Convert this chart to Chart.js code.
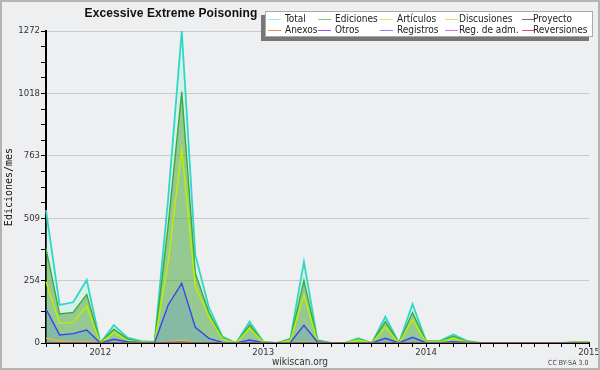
<!DOCTYPE html>
<html>
<head>
<meta charset="utf-8">
<script src="https://cdn.jsdelivr.net/npm/chart.js@4/dist/chart.umd.min.js"></script>
<style>
  html, body { margin: 0; padding: 0; background: #eeeff1; }
  #wrap { position: relative; width: 600px; height: 370px; background: #eeeff1; overflow: hidden; }
  #frame { position: absolute; left: 0; top: 0; width: 600px; height: 370px; box-sizing: border-box; border: 2px solid #b4b4b4; pointer-events: none; }
  canvas { position: absolute; left: 0; top: 0; }
  #title { position: absolute; top: 6px; left: 60px; width: 222px; text-align: center; font: bold 12px "Liberation Sans", sans-serif; color: #111; letter-spacing: 0.1px; }
  #legend { position: absolute; left: 265px; top: 11px; width: 328px; height: 26px; background: #fff; border: 1px solid #aaa; box-sizing: border-box; box-shadow: -4px 4px 0 #777; }
  .li { position: absolute; font: 10px "DejaVu Sans Condensed", "DejaVu Sans", sans-serif; color: #222; white-space: nowrap; line-height: 11px; }
  .ll { position: absolute; height: 1px; width: 13px; }
  #site { position: absolute; left: 0; width: 600px; top: 356px; text-align: center; font: 10px "DejaVu Sans Condensed", "DejaVu Sans", sans-serif; color: #333; }
  #cc { position: absolute; left: 548px; top: 359px; font: 7px "DejaVu Sans Condensed", "DejaVu Sans", sans-serif; color: #444; }
</style>
</head>
<body>
<div id="wrap">
  <canvas id="c" width="600" height="370"></canvas>
  <div id="title">Excessive Extreme Poisoning</div>
  <div id="legend"></div>
  <div id="site">wikiscan.org</div>
  <div id="cc">CC BY-SA 3.0</div>
  <div id="frame"></div>
</div>
<script>
// ---- data (monthly, Sep 2011 .. Jan 2015) ----
const months = ['2011-09','2011-10','2011-11','2011-12',
  '2012-01','2012-02','2012-03','2012-04','2012-05','2012-06','2012-07','2012-08','2012-09','2012-10','2012-11','2012-12',
  '2013-01','2013-02','2013-03','2013-04','2013-05','2013-06','2013-07','2013-08','2013-09','2013-10','2013-11','2013-12',
  '2014-01','2014-02','2014-03','2014-04','2014-05','2014-06','2014-07','2014-08','2014-09','2014-10','2014-11','2014-12',
  '2015-01'];
const total       = [542,155,166,257,0,73,22,8,4,590, 1272,359,145,26,0,87,5,0,18,331, 12,0,0,20,0,107,0,158,8,8, 35,9,0,0,0,0,0,0,0,3,3];
const ediciones   = [385,118,125,198,0,56,16,5,3,480, 1024,284,124,20,0,73,4,0,14,254, 9,0,0,15,0,87,0,124,6,6, 28,6,0,0,0,0,0,0,0,3,3];
const articulos   = [250,80,84,151,0,42,10,4,2,330, 790,230,107,17,0,60,3,0,10,196, 6,0,0,12,0,64,0,94,4,4, 19,4,0,0,0,0,0,0,0,3,3];
const discusiones = [20,8,3,5,0,1,0,0,0,3, 12,2,0,0,0,1,0,0,0,4, 0,0,0,0,0,1,0,1,0,0, 0,0,0,0,0,0,0,0,0,0,0];
const proyecto    = [0,0,0,0,0,0,0,0,0,0, 0,0,0,0,0,0,0,0,0,0, 0,0,0,0,0,0,0,0,0,0, 0,0,0,0,0,0,0,0,0,0,0];
const anexos      = [0,0,0,0,0,0,0,0,0,0, 0,0,0,0,0,0,0,0,0,0, 0,0,0,0,0,0,0,0,0,0, 0,0,0,0,0,0,0,0,0,0,0];
const otros       = [0,0,0,0,0,0,0,0,0,2, 3,1,0,0,0,0,0,0,0,0, 0,0,0,0,0,0,0,0,0,0, 0,0,0,0,0,0,0,0,0,0,0];
const registros   = [138,33,38,53,0,15,5,2,1,155, 243,64,19,2,0,12,1,0,2,72, 4,0,0,1,0,19,0,23,1,1, 5,2,0,0,0,0,0,0,0,0,0];
const regAdm      = [0,0,0,0,0,0,0,0,0,0, 0,0,0,0,0,0,0,0,0,0, 0,0,0,0,0,0,0,0,0,0, 0,0,0,0,0,0,0,0,0,0,0];
const reversiones = [0,0,0,0,0,0,0,0,0,0, 0,0,0,0,0,0,0,0,0,0, 0,0,0,0,0,0,0,0,0,0, 0,0,0,0,0,0,0,0,0,0,0];
const yMax = 1272;
const yearTicks = {'2012-01':'2012','2013-01':'2013','2014-01':'2014','2015-01':'2015'};

const seriesNames  = ['Total','Ediciones','Artículos','Discusiones','Proyecto','Anexos','Otros','Registros','Reg. de adm.','Reversiones'];
const seriesData   = [total, ediciones, articulos, discusiones, proyecto, anexos, otros, registros, regAdm, reversiones];
const lineColors   = ['#2fd8c6','#3aaa3a','#bdf000','#e8b830','#666666','#f07040','#8040d0','#3a44f0','#d040e0','#e03030'];
const legendColors = ['#a6e6e0','#7cc87c','#d2f070','#f6d070','#707070','#f08a5a','#9a5ae6','#7c86f4','#d870e6','#e45050'];
const fills        = ['+1','origin',false,false,false,false,false,'origin',false,false];
const fillColors   = ['rgba(165,242,218,0.30)','rgba(62,161,49,0.50)',null,null,null,null,null,'rgba(82,152,225,0.25)',null,null];
const orders       = [5,4,3,1,0,0,0,2,0,0];

const datasets = seriesNames.map((name, i) => ({
  label: name,
  data: seriesData[i],
  borderColor: lineColors[i],
  backgroundColor: fillColors[i] || 'transparent',
  fill: fills[i],
  borderWidth: i === 0 ? 1.8 : 1.4,
  pointRadius: 0,
  tension: 0,
  order: orders[i]
}));

// y ticks: majors every yMax/5, minors every yMax/20
const yTickVals = [];
for (let k = 0; k <= 20; k++) yTickVals.push(yMax * k / 20);

new Chart(document.getElementById('c'), {
  type: 'line',
  data: { labels: months, datasets },
  options: {
    responsive: false,
    animation: false,
    devicePixelRatio: 1,
    layout: { padding: { top: 31, right: 11, left: 0, bottom: 0 } },
    plugins: { legend: { display: false }, tooltip: { enabled: false }, title: { display: false } },
    scales: {
      x: {
        type: 'category',
        offset: false,
        z: 1,
        grid: { drawOnChartArea: false, drawTicks: true, tickLength: 4, color: '#000', offset: false },
        border: { display: true, color: '#000', width: 2 },
        ticks: {
          autoSkip: false, maxRotation: 0, minRotation: 0, padding: 0,
          color: '#333',
          font: { family: '"DejaVu Sans Condensed", "DejaVu Sans", sans-serif', size: 9.5 },
          callback: function(v, idx) { return yearTicks[months[idx]] || ''; }
        },
        afterFit: s => { s.height = 27; }
      },
      y: {
        type: 'linear',
        min: 0, max: yMax,
        afterBuildTicks: s => { s.ticks = yTickVals.map(v => ({ value: v })); },
        grid: {
          drawTicks: true, tickLength: 5,
          color: ctx => (ctx.index % 4 === 0 && ctx.index > 0) ? '#c9c9c9' : 'rgba(0,0,0,0)',
          tickColor: '#000'
        },
        border: { display: true, color: '#000', width: 2 },
        ticks: {
          autoSkip: false, padding: 1, color: '#333',
          font: { family: '"DejaVu Sans Condensed", "DejaVu Sans", sans-serif', size: 9.5 },
          callback: function(v, idx) { return idx % 4 === 0 ? String(Math.round(v)) : ''; }
        },
        title: {
          display: true, text: 'Ediciones/mes', color: '#111',
          font: { family: '"DejaVu Sans Mono", monospace', size: 10 },
          padding: { top: 3, bottom: 0 }
        },
        afterFit: s => { s.width = 46; }
      }
    }
  }
});

// HTML legend built from the series names
const lg = document.getElementById('legend');
const colX = [2, 52, 114, 179, 256];
const textX = [19, 69, 131, 193, 267];
seriesNames.forEach((name, i) => {
  const row = Math.floor(i / 5), col = i % 5;
  const y = row === 0 ? 7 : 18;
  const l = document.createElement('div');
  l.className = 'll';
  l.style.left = colX[col] + 'px'; l.style.top = y + 'px'; l.style.background = legendColors[i];
  lg.appendChild(l);
  const t = document.createElement('div');
  t.className = 'li';
  t.textContent = name;
  t.style.left = textX[col] + 'px'; t.style.top = (y - 6) + 'px';
  lg.appendChild(t);
});
</script>
</body>
</html>
